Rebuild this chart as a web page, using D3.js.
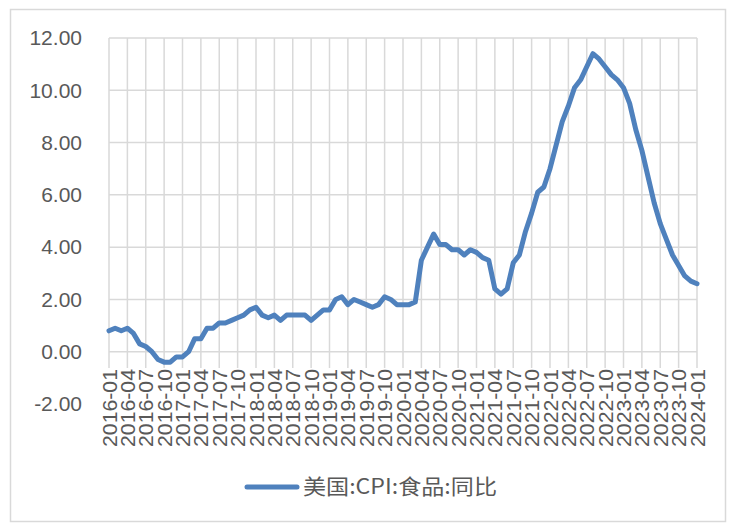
<!DOCTYPE html>
<html><head><meta charset="utf-8">
<script src="https://cdn.jsdelivr.net/npm/d3@7"></script>
<style>body{margin:0;background:#fff;} svg{display:block;}</style>
</head><body>
<svg id="c" width="729" height="524"></svg>
<script>
const startYear = 2016, startMonth = 1;
const values = [
 0.8,0.9,0.8,0.9,0.7,0.3,0.2,0.0,-0.3,-0.4,-0.4,-0.2,
 -0.2,0.0,0.5,0.5,0.9,0.9,1.1,1.1,1.2,1.3,1.4,1.6,
 1.7,1.4,1.3,1.4,1.2,1.4,1.4,1.4,1.4,1.2,1.4,1.6,
 1.6,2.0,2.1,1.8,2.0,1.9,1.8,1.7,1.8,2.1,2.0,1.8,
 1.8,1.8,1.9,3.5,4.0,4.5,4.1,4.1,3.9,3.9,3.7,3.9,
 3.8,3.6,3.5,2.4,2.2,2.4,3.4,3.7,4.6,5.3,6.1,6.3,
 7.0,7.9,8.8,9.4,10.1,10.4,10.9,11.4,11.2,10.9,10.6,10.4,
 10.1,9.5,8.5,7.7,6.7,5.7,4.9,4.3,3.7,3.3,2.9,2.7,
 2.6
];
const categories = values.map((v,i)=>{
  const m = startMonth - 1 + i;
  const y = startYear + Math.floor(m/12);
  return y + "-" + String(m%12+1).padStart(2,"0");
});
const yTicks = [-2,0,2,4,6,8,10,12];
const seriesName = "美国:CPI:食品:同比";

const svg = d3.select("#c");
const plot = {l:109, r:697, t:38, b:404};
const labelTop = 368;
const font = "'Liberation Sans', Arial, sans-serif";
const txt = "#595959", grid = "#d9d9d9", lineColor = "#4f81bd";

svg.append("rect").attr("x",10.5).attr("y",9.5).attr("width",715).attr("height",512)
  .attr("fill","#fff").attr("stroke",grid).attr("stroke-width",1.5);

const x = d3.scalePoint().domain(categories).range([plot.l, plot.r]);
const y = d3.scaleLinear().domain([-2,12]).range([plot.b, plot.t]);

const tickCats = categories.filter((c,i)=>i%3===0);

// gridlines
svg.append("g").selectAll("line").data(yTicks.filter(d=>y(d)<labelTop)).join("line")
  .attr("x1",plot.l).attr("x2",plot.r).attr("y1",d=>y(d)).attr("y2",d=>y(d))
  .attr("stroke",grid).attr("stroke-width",1.5);
svg.append("g").selectAll("line").data(tickCats).join("line")
  .attr("x1",d=>x(d)).attr("x2",d=>x(d)).attr("y1",plot.t).attr("y2",labelTop)
  .attr("stroke",grid).attr("stroke-width",1.5);

// y axis labels
const yAxis = d3.axisLeft(y).tickValues(yTicks)
  .tickFormat(d=>d3.format(".2f")(d).replace("−","-")).tickSize(0).tickPadding(27);
const gy = svg.append("g").attr("transform",`translate(${plot.l},0)`).call(yAxis);
gy.select(".domain").remove();
gy.selectAll("text").attr("fill",txt).style("font-family",font).style("font-size","21px");

// x axis labels
const xAxis = d3.axisBottom(x).tickValues(tickCats).tickSize(0).tickPadding(0);
const gx = svg.append("g").attr("transform",`translate(0,${labelTop})`).call(xAxis);
gx.select(".domain").remove();
gx.selectAll("text").attr("fill",txt).style("font-family",font).style("font-size","20px")
  .attr("transform","rotate(-90)").attr("text-anchor","end")
  .attr("x",-1).attr("y",0).attr("dy","0.35em")
  .attr("textLength",78).attr("lengthAdjust","spacingAndGlyphs");

// line
const line = d3.line().x((d,i)=>x(categories[i])).y(d=>y(d));
svg.append("path").datum(values).attr("d",line).attr("fill","none")
  .attr("stroke",lineColor).attr("stroke-width",5).attr("stroke-linejoin","round").attr("stroke-linecap","round");

// legend
svg.append("line").attr("x1",247).attr("x2",297).attr("y1",487).attr("y2",487)
  .attr("stroke",lineColor).attr("stroke-width",5).attr("stroke-linecap","round");
svg.append("text").attr("x",303).attr("y",487).attr("dy","0.35em").attr("fill",txt)
  .style("font-family","'Noto Sans CJK SC', sans-serif").style("font-size","21px")
  .attr("textLength",194).attr("lengthAdjust","spacingAndGlyphs").text(seriesName);
</script>
</body></html>
